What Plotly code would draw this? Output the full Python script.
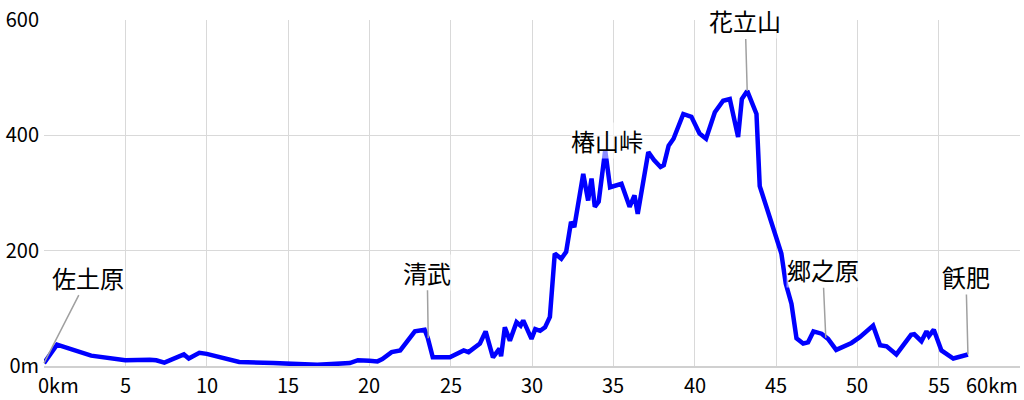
import plotly.graph_objects as go

# elevation profile (distance km, altitude m)
dist_km = [0.0, 0.8, 2.9, 5.0, 6.5, 6.9, 7.4, 8.6, 8.9, 9.55, 10.0, 12.0, 14.1, 16.8,
           18.8, 19.3, 20.0, 20.5, 20.8, 21.06, 21.37, 21.9, 22.2, 22.8, 23.4, 23.6,
           23.9, 24.95, 25.8, 26.1, 26.8, 27.15, 27.6, 28.0, 28.1, 28.33, 28.64, 29.05,
           29.3, 29.46, 29.97, 30.2, 30.5, 30.8, 31.1, 31.4, 31.8, 32.1, 32.4, 32.6,
           33.15, 33.45, 33.66, 33.86, 34.1, 34.5, 34.8, 35.3, 35.5, 36.0, 36.3, 36.5,
           37.15, 37.5, 37.9, 38.1, 38.4, 38.7, 39.3, 39.8, 40.3, 40.7, 41.24, 41.75,
           42.16, 42.67, 42.9, 43.23, 43.8, 44.0, 45.13, 45.33, 45.6, 45.95, 46.26,
           46.67, 46.97, 47.3, 47.8, 48.2, 48.7, 49.64, 50.15, 50.97, 51.4, 51.8, 52.4,
           53.3, 53.5, 53.94, 54.25, 54.4, 54.7, 55.17, 55.9, 56.8]
alt_m = [5, 37, 18, 10, 11, 10, 6, 20, 13, 23, 21, 7, 5, 2,
         5, 10, 9, 8, 12, 18, 24, 27, 39, 60, 63, 48,
         15, 15, 27, 24, 39, 60, 15, 30, 17, 67, 44, 76,
         70, 79, 47, 64, 61, 67, 85, 195, 186, 198, 250, 241,
         333, 287, 325, 276, 285, 374, 310, 313, 316, 276, 296, 264,
         371, 357, 345, 348, 382, 394, 437, 432, 403, 394, 440, 460,
         463, 397, 463, 477, 437, 312, 212, 195, 143, 108, 48,
         39, 41, 60, 56, 47, 28, 40, 50, 70, 36, 34, 20,
         54, 55, 43, 60, 52, 63, 27, 13, 20]

# place names along the route
place_names = ["佐土原", "清武", "椿山峠", "花立山", "郷之原", "飫肥"]
place_km = [0.0, 23.62, 34.5, 43.23, 48.06, 56.8]
place_m = [5, 48, 374, 477, 49, 20]
label_dx = [44, -1, 2, -2, -3, -2]
label_dy = [-86, -66, -10, -70, -68, -78]

x_ticks = [0, 5, 10, 15, 20, 25, 30, 35, 40, 45, 50, 55, 60]
x_ticktext = ["0km", "5", "10", "15", "20", "25", "30", "35", "40", "45", "50", "55", "60km"]
y_ticks = [0, 200, 400, 600]
y_ticktext = ["0m", "200", "400", "600"]

font_family = "Noto Sans CJK JP"
tick_size = 20

fig = go.Figure()
fig.add_trace(go.Scatter(x=dist_km, y=alt_m, mode="lines",
                         line=dict(color="#0000ff", width=4.5), hoverinfo="skip"))

annotations = []
for name, xk, ym, dx, dy in zip(place_names, place_km, place_m, label_dx, label_dy):
    annotations.append(dict(
        x=xk, y=ym, text=name, showarrow=True, arrowhead=0, arrowwidth=1.5,
        arrowcolor="#a0a0a0", ax=dx, ay=dy,
        bgcolor="rgba(255,255,255,0.55)", borderpad=0,
        font=dict(family=font_family, size=24, color="black"),
    ))

# x tick labels, first and last kept inside the canvas
for i, (v, t) in enumerate(zip(x_ticks, x_ticktext)):
    if i == 0:
        anchor, shift = "left", -7
    elif i == len(x_ticks) - 1:
        anchor, shift = "right", -1
    else:
        anchor, shift = "center", 0
    annotations.append(dict(
        x=v, y=0, xref="x", yref="paper", text=t, showarrow=False,
        xanchor=anchor, yanchor="middle", xshift=shift, yshift=-18,
        borderpad=0,
        font=dict(family=font_family, size=tick_size, color="black"),
    ))

fig.update_layout(
    width=1024, height=400,
    margin=dict(l=44, r=4, t=20, b=34),
    paper_bgcolor="white", plot_bgcolor="white",
    showlegend=False,
    annotations=annotations,
    font=dict(family=font_family, size=tick_size, color="black"),
)
fig.update_xaxes(range=[0, 60], tickvals=x_ticks, showticklabels=False,
                 showgrid=True, gridcolor="#d9d9d9", gridwidth=1,
                 zeroline=False, showline=True, linecolor="#d0d0d0", linewidth=2,
                 automargin=False, fixedrange=True)
fig.update_yaxes(range=[0, 600], tickvals=y_ticks, ticktext=y_ticktext,
                 showgrid=True, gridcolor="#d9d9d9", gridwidth=1,
                 zeroline=False, showline=False, ticks="", ticklabelstandoff=4,
                 ticklabeloverflow="allow",
                 tickfont=dict(family=font_family, size=tick_size, color="black"),
                 automargin=False, fixedrange=True)

# drop the default body margin so the chart fills the window exactly
fig.write_html("out.html", config={"displayModeBar": False},
               post_script="document.body.style.margin='0';")
